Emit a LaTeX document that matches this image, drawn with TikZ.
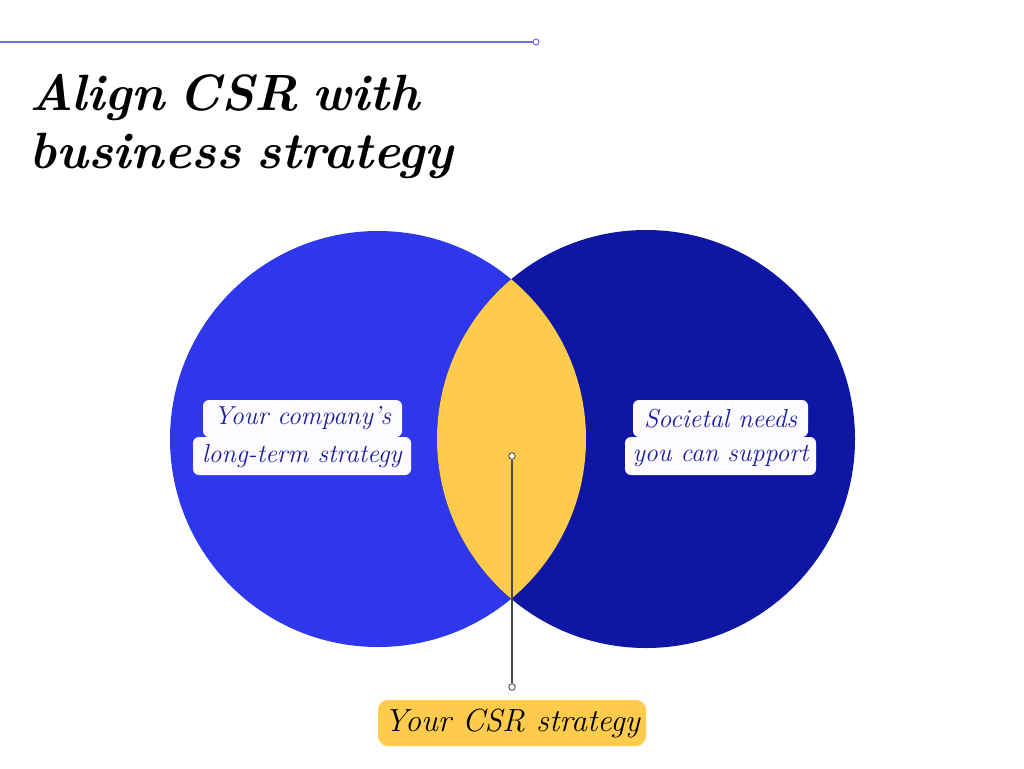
\documentclass[tikz,border=0pt]{standalone}
\usepackage{tikz}
\definecolor{leftblue}{HTML}{2E37EB}
\definecolor{rightblue}{HTML}{0F16A3}
\definecolor{lensyellow}{HTML}{FFCB4C}
\definecolor{toplinec}{HTML}{6E6EE6}
\definecolor{labeltext}{HTML}{1A1F9E}
\definecolor{labelbg}{HTML}{FDFBFF}
\definecolor{connc}{HTML}{4A4A4A}
\tikzset{
  labelline/.style={fill=labelbg, rounded corners=6pt, inner sep=0pt,
    text=labeltext, font=\fontsize{26}{30}\selectfont\itshape},
  titletext/.style={anchor=base west, inner sep=0pt,
    font=\fontsize{51}{58}\selectfont\bfseries\itshape},
  dotc/.style={circle, draw=connc, fill=white, line width=0.9pt, inner sep=0pt, minimum size=6.5pt},
}
\begin{document}
\begin{tikzpicture}[x=1pt,y=-1pt]
\useasboundingbox (0,0) rectangle (1024,768);
\fill[white] (0,0) rectangle (1024,768);
% top rule
\node[circle, draw=toplinec, fill=white, line width=1pt, inner sep=0pt, minimum size=6pt] (topdot) at (536,42) {};
\coordinate (topstart) at (0,42);
\draw[toplinec, line width=1.2pt] (topstart) -- (topdot.west);
% title
\node[titletext] (title1) at (29,110) {Align\hspace{0.28em}CSR\hspace{0.28em}with};
\node[titletext] (title2) at (29,168) {business\hspace{0.3em}strategy};
% circles
\node[circle, fill=leftblue, minimum size=416pt, inner sep=0pt] (lc) at (378,439) {};
\node[circle, fill=rightblue, minimum size=418pt, inner sep=0pt] (rc) at (646,439) {};
\begin{scope}
  \clip (378,439) circle (208);
  \fill[lensyellow] (646,439) circle (209);
\end{scope}
% left label
\node[labelline, minimum width=218pt, minimum height=38pt] (l2) at (302,456) {long-term strategy};
\node[labelline, minimum width=199pt, minimum height=37pt] (l1) at (302.5,418.5) {Your company's};
% right label
\node[labelline, minimum width=191pt, minimum height=38pt] (r2) at (720.5,456) {you can support};
\node[labelline, minimum width=175pt, minimum height=37pt] (r1) at (720.5,418.5) {Societal needs};
% connector
\node[dotc] (d1) at (512,456) {};
\node[dotc] (d2) at (512,687) {};
\draw[connc, line width=1.2pt] (d1.south) -- (d2.north);
% bottom label
\node[fill=lensyellow, rounded corners=10pt, minimum width=268pt, minimum height=46pt, inner sep=0pt,
  font=\fontsize{32}{36}\selectfont\itshape] (csr) at (512,723) {Your CSR strategy};
\end{tikzpicture}
\end{document}
